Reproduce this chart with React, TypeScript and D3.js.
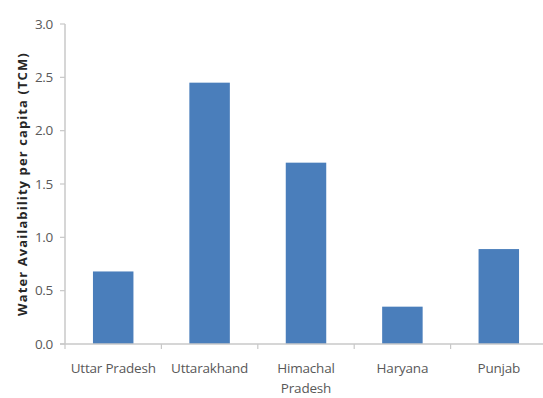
import React from "react";
import * as d3 from "d3";

const categories = [["Uttar Pradesh"], ["Uttarakhand"], ["Himachal", "Pradesh"], ["Haryana"], ["Punjab"]];
const values = [0.68, 2.45, 1.7, 0.35, 0.89];
const yTicks = [0, 0.5, 1.0, 1.5, 2.0, 2.5, 3.0];
const yTitle = "Water Availability per capita (TCM)";

export default function App() {
  const W = 543, H = 398;
  const left = 65, right = 547, top = 24, bottom = 344;
  const x = d3.scaleBand<number>().domain(d3.range(values.length)).range([left, right]).paddingInner(0.58).paddingOuter(0.29);
  const xb = d3.scaleBand<number>().domain(d3.range(values.length)).range([left, right]);
  const y = d3.scaleLinear().domain([0, 3]).range([bottom, top]);
  const font = "'Open Sans', 'Liberation Sans', sans-serif";
  const tickColor = "#595959";
  const axisColor = "#c8c8c8";
  const bounds = d3.range(values.length + 1).map((i) => left + i * xb.step());
  return (
    <svg width={W} height={H} style={{ position: "absolute", left: 0, top: 0, background: "#fff" }}>
      {values.map((v, i) => (
        <rect key={i} x={x(i)} y={y(v)} width={x.bandwidth()} height={bottom - y(v)} fill="#4a7ebb" />
      ))}
      <line x1={left} x2={left} y1={top} y2={bottom} stroke={axisColor} strokeWidth={1.5} />
      {yTicks.map((t) => (
        <g key={t}>
          <line x1={left - 5} x2={left} y1={y(t)} y2={y(t)} stroke={axisColor} strokeWidth={1.2} />
          <text x={53} y={y(t)} dy="0.35em" textAnchor="end" fontFamily={font} fontSize={13.5} fill={tickColor} letterSpacing={-0.3}>
            {d3.format(".1f")(t)}
          </text>
        </g>
      ))}
      <line x1={left - 5} x2={right} y1={bottom} y2={bottom} stroke={axisColor} strokeWidth={1.5} />
      {bounds.map((b, i) => (
        <line key={i} x1={b} x2={b} y1={bottom} y2={bottom + 5} stroke={axisColor} strokeWidth={1.2} />
      ))}
      {categories.map((lines, i) => (
        <text key={i} x={xb(i)! + xb.bandwidth() / 2} y={373} textAnchor="middle" fontFamily={font} fontSize={13.5} fill={tickColor} letterSpacing={-0.2}>
          {lines.map((l, j) => (
            <tspan key={j} x={xb(i)! + xb.bandwidth() / 2} dy={j === 0 ? 0 : 20}>{l}</tspan>
          ))}
        </text>
      ))}
      <text transform={`translate(22,184) rotate(-90)`} dy="0.35em" textAnchor="middle" fontFamily={font} fontWeight="bold" fontSize={13} fill="#262626" letterSpacing={1.1}>
        {yTitle}
      </text>
    </svg>
  );
}
